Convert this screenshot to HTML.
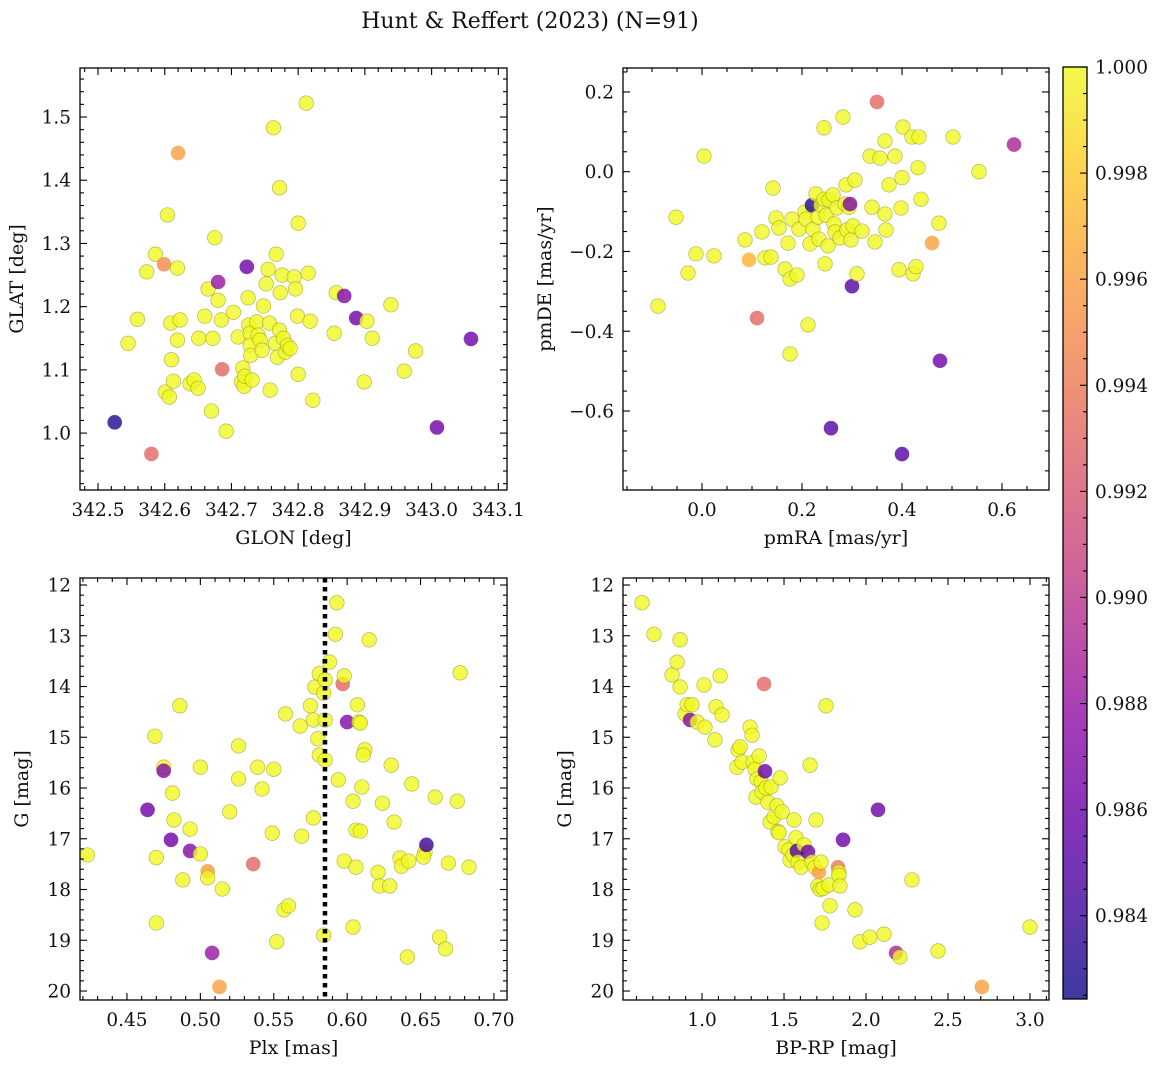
<!DOCTYPE html>
<html><head><meta charset="utf-8"><style>
body{margin:0;background:#fff;}
svg{display:block;font-family:"DejaVu Serif","Liberation Serif",serif;}
</style></head><body>
<svg id="fig" width="1161" height="1067" viewBox="0 0 1161 1067" xmlns="http://www.w3.org/2000/svg">
<defs><linearGradient id="cbgrad" x1="0" y1="1" x2="0" y2="0"></linearGradient></defs>
<text x="530" y="28" font-size="22" text-anchor="middle" fill="#111">Hunt &amp; Reffert (2023) (N=91)</text>
</svg>
<script>
// Panel 1: GLON vs GLAT
const glon1=[342.525,342.545,342.559,342.573,342.580,342.586,342.599,342.604,342.601,342.607,342.609,342.610,342.613,342.620,342.619,342.623,342.619,342.638,342.644,342.650,342.651,342.660,342.665,342.670,342.672,342.675,342.680,342.680,342.685,342.686,342.692,342.703,342.710,342.715,342.717,342.719,342.720,342.723,342.725,342.726,342.728,342.728,342.729,342.731,342.738,342.740,342.743,342.746,342.748,342.752,342.755,342.757,342.758,342.763,342.766,342.767,342.769,342.772,342.772,342.773,342.776,342.778,342.781,342.784,342.788,342.794,342.796,342.799,342.800,342.800,342.812,342.815,342.818,342.822,342.854,342.857,342.869,342.887,342.903,342.899,342.911,342.939,342.959,342.976,343.008,343.059];
const glat1=[1.017,1.142,1.180,1.255,0.967,1.283,1.267,1.345,1.065,1.057,1.174,1.116,1.082,1.443,1.261,1.179,1.147,1.078,1.084,1.071,1.150,1.185,1.228,1.035,1.150,1.309,1.239,1.210,1.179,1.101,1.003,1.191,1.152,1.081,1.103,1.074,1.090,1.263,1.214,1.171,1.158,1.139,1.123,1.084,1.176,1.155,1.147,1.131,1.201,1.236,1.259,1.174,1.068,1.483,1.142,1.283,1.120,1.388,1.163,1.222,1.250,1.150,1.128,1.139,1.134,1.247,1.228,1.185,1.332,1.093,1.522,1.253,1.177,1.052,1.158,1.222,1.217,1.182,1.177,1.081,1.150,1.203,1.098,1.130,1.009,1.149];
const prob1=[0.983,1,1,1,0.993,1,0.995,1,1,1,1,1,1,0.996,1,1,1,1,1,1,1,1,1,1,1,1,0.988,1,1,0.993,1,1,1,1,1,1,1,0.986,1,1,1,1,1,1,1,1,1,1,1,1,1,1,1,1,1,1,1,1,1,1,1,1,1,1,1,1,1,1,1,1,1,1,1,1,1,1,0.987,0.986,1,1,1,1,1,1,0.986,0.986];
// Panel 2: pmRA vs pmDE
const pmra2=[-0.088,-0.052,-0.028,-0.012,0.004,0.024,0.086,0.094,0.110,0.120,0.126,0.138,0.142,0.148,0.154,0.166,0.172,0.176,0.176,0.180,0.190,0.194,0.206,0.208,0.212,0.216,0.220,0.222,0.228,0.232,0.234,0.238,0.244,0.244,0.246,0.248,0.252,0.254,0.258,0.262,0.264,0.266,0.270,0.276,0.282,0.286,0.288,0.290,0.294,0.296,0.298,0.300,0.302,0.306,0.310,0.320,0.336,0.340,0.346,0.350,0.356,0.366,0.366,0.368,0.374,0.386,0.394,0.400,0.402,0.398,0.400,0.420,0.422,0.428,0.434,0.432,0.438,0.460,0.474,0.476,0.502,0.554,0.624];
const pmde2=[-0.337,-0.114,-0.254,-0.206,0.039,-0.211,-0.171,-0.221,-0.367,-0.151,-0.216,-0.214,-0.041,-0.116,-0.141,-0.244,-0.179,-0.457,-0.269,-0.119,-0.259,-0.144,-0.101,-0.119,-0.384,-0.181,-0.084,-0.144,-0.056,-0.114,-0.169,-0.084,0.110,-0.069,-0.231,-0.109,-0.186,-0.071,-0.643,-0.058,-0.131,-0.151,-0.091,-0.166,0.137,-0.081,-0.033,-0.146,-0.089,-0.081,-0.171,-0.287,-0.136,-0.021,-0.256,-0.149,0.039,-0.089,-0.176,0.175,0.034,0.077,-0.106,-0.146,-0.033,0.039,-0.246,-0.708,0.112,-0.091,-0.015,0.087,-0.256,-0.238,0.087,0.010,-0.069,-0.179,-0.129,-0.474,0.087,0.000,0.068];
const prob2=[1,1,1,1,1,1,1,0.997,0.993,1,1,1,1,1,1,1,1,1,1,1,1,1,1,1,1,1,0.983,1,1,1,1,1,1,1,1,1,1,1,0.985,1,1,1,1,1,1,1,1,1,1,0.987,1,0.985,1,1,1,1,1,1,1,0.993,1,1,1,1,1,1,1,0.985,1,1,1,1,1,1,1,1,1,0.996,1,0.986,1,1,0.989];
// Panel 3: Plx vs G
const plx3=[0.423,0.469,0.470,0.470,0.464,0.475,0.475,0.480,0.481,0.482,0.486,0.488,0.493,0.493,0.500,0.500,0.505,0.505,0.508,0.513,0.515,0.520,0.526,0.526,0.536,0.539,0.542,0.549,0.550,0.552,0.558,0.557,0.560,0.569,0.568,0.575,0.577,0.577,0.578,0.580,0.581,0.581,0.584,0.584,0.585,0.585,0.585,0.588,0.592,0.593,0.594,0.597,0.598,0.598,0.600,0.604,0.604,0.606,0.606,0.607,0.608,0.609,0.609,0.610,0.612,0.611,0.615,0.621,0.622,0.624,0.629,0.630,0.632,0.636,0.637,0.641,0.642,0.644,0.653,0.652,0.654,0.660,0.663,0.667,0.669,0.675,0.677,0.683];
const g3=[17.32,14.98,18.66,17.37,16.43,15.59,15.66,17.02,16.10,16.63,14.38,17.81,17.24,16.81,15.59,17.30,17.64,17.77,19.25,19.92,17.99,16.47,15.17,15.82,17.50,15.59,16.02,16.89,15.63,19.03,14.54,18.40,18.32,16.95,14.78,14.38,14.66,16.59,14.01,15.03,13.75,15.35,18.90,14.13,13.87,15.45,14.66,13.52,12.97,12.35,15.84,13.95,13.79,17.44,14.70,18.74,16.26,17.56,16.83,14.36,14.70,14.72,16.85,15.98,15.25,15.35,13.08,17.66,17.93,16.30,17.93,15.55,16.67,17.38,17.54,19.33,17.44,15.92,17.26,17.36,17.12,16.18,18.94,19.17,17.48,16.26,13.73,17.56];
const prob3=[1,1,1,1,0.986,1,0.987,0.986,1,1,1,1,0.987,1,1,1,0.996,1,0.988,0.996,1,1,1,1,0.993,1,1,1,1,1,1,1,1,1,1,1,1,1,1,1,1,1,1,1,1,1,1,1,1,1,1,0.993,1,1,0.987,1,1,1,1,1,1,1,1,1,1,1,1,1,1,1,1,1,1,1,1,1,1,1,1,1,0.984,1,1,1,1,1,1,1];
const plxLine=[0.5849];
// Panel 4: BP-RP vs G
const bprp4=[0.634,0.707,0.817,0.848,0.866,0.866,0.896,0.909,0.927,0.939,0.970,1.012,1.018,1.079,1.085,1.110,1.122,1.213,1.220,1.232,1.244,1.293,1.305,1.311,1.323,1.329,1.335,1.348,1.360,1.366,1.378,1.384,1.390,1.402,1.415,1.421,1.439,1.457,1.463,1.470,1.476,1.488,1.506,1.530,1.537,1.555,1.561,1.573,1.579,1.585,1.604,1.622,1.646,1.659,1.671,1.689,1.695,1.707,1.713,1.720,1.726,1.732,1.738,1.756,1.774,1.780,1.829,1.835,1.835,1.841,1.860,1.933,1.963,2.024,2.073,2.110,2.183,2.207,2.280,2.439,2.707,3.000];
const g4=[12.35,12.97,13.77,13.52,13.08,14.01,14.54,14.36,14.66,14.36,14.70,13.97,14.80,15.05,14.40,13.79,14.56,15.59,15.25,15.19,15.49,14.80,14.96,15.49,15.63,16.18,15.82,15.37,15.88,16.08,13.95,15.67,16.00,16.28,16.67,15.98,16.57,16.35,16.86,16.88,15.80,16.47,17.16,17.22,17.42,17.32,16.63,16.98,17.24,17.46,17.56,17.12,17.26,15.55,17.46,17.56,16.63,17.93,17.66,18.00,17.46,18.66,17.98,14.38,17.91,18.32,17.56,17.66,17.72,17.93,17.02,18.40,19.03,18.94,16.43,18.88,19.25,19.33,17.81,19.21,19.92,18.74];
const prob4=[1,1,1,1,1,1,1,1,0.987,1,1,1,1,1,1,1,1,1,1,1,1,1,1,1,1,1,1,1,1,1,0.993,0.986,1,1,1,1,1,1,1,1,1,1,1,1,1,1,1,1,0.985,1,1,1,0.986,1,1,1,1,1,0.996,1,1,1,1,1,1,1,0.994,1,1,1,0.986,1,1,1,0.986,1,0.989,1,1,1,0.996,1];
// Colorbar
const cbTicks=[0.984,0.986,0.988,0.990,0.992,0.994,0.996,0.998,1.000];
const cbMin=0.98243, cbMax=1.0;

const NS='http://www.w3.org/2000/svg';
const svg=document.getElementById('fig');
function el(tag,attrs,parent){const e=document.createElementNS(NS,tag);for(const k in attrs)e.setAttribute(k,attrs[k]);(parent||svg).appendChild(e);return e;}
const stops=[[0,'#0d0887'],[0.1,'#41049d'],[0.2,'#6a00a8'],[0.3,'#8f0da4'],[0.4,'#b12a90'],[0.5,'#cc4778'],[0.6,'#e16462'],[0.7,'#f2844b'],[0.8,'#fca636'],[0.9,'#fcce25'],[1,'#f0f921']];
function hex(h){return [1,3,5].map(i=>parseInt(h.substr(i,2),16));}
function plasma(t){t=Math.max(0,Math.min(1,t));for(let i=1;i<stops.length;i++){if(t<=stops[i][0]){const a=stops[i-1],b=stops[i];const f=(t-a[0])/(b[0]-a[0]);const ca=hex(a[1]),cb=hex(b[1]);return 'rgb('+ca.map((v,j)=>Math.round(v+(cb[j]-v)*f)).join(',')+')';}}return stops[stops.length-1][1];}
function cnorm(p){return (p-cbMin)/(cbMax-cbMin);}

function fmt(v,d){let s=v.toFixed(d);if(v<-1e-9)s='\u2212'+s.slice(1);if(Math.abs(v)<1e-9)s=(0).toFixed(d);return s;}

function panel(o){
  const g=el('g',{});
  
  
  const X=v=>o.x0+(v-o.xmin)/(o.xmax-o.xmin)*(o.x1-o.x0);
  const Y=o.yinv?(v=>o.y0+(v-o.ymin)/(o.ymax-o.ymin)*(o.y1-o.y0)):(v=>o.y1-(v-o.ymin)/(o.ymax-o.ymin)*(o.y1-o.y0));
  const pg=el('g',{},g);
  
  
  for(let i=0;i<o.xs.length;i++){
    const c=el('circle',{cx:X(o.xs[i]),cy:Y(o.ys[i]),r:7.3,fill:plasma(cnorm(o.ps[i])),'fill-opacity':0.8,stroke:o.ps[i]>=0.999?'#8a8a2a':'none','stroke-opacity':0.6,'stroke-width':0.7},pg);
    
    
  }
  if(o.vline){for(const v of o.vline){const l=el('line',{x1:X(v),x2:X(v),y1:o.y0,y2:o.y1,stroke:'#000','stroke-width':4.5,'stroke-dasharray':'4.5 4.5'},g);
    
    }}
  const fr=el('rect',{x:o.x0,y:o.y0,width:o.x1-o.x0,height:o.y1-o.y0,fill:'none',stroke:'#000','stroke-width':1.3},g);
  
  
  const lo=Math.min(o.xmin,o.xmax),hi=Math.max(o.xmin,o.xmax);
  for(let k=Math.ceil(lo/o.xminor-1e-6);k*o.xminor<=hi+1e-9;k++){
    const v=k*o.xminor;const major=Math.abs(v/o.xmajor-Math.round(v/o.xmajor))<1e-6;const L=major?7:4;const px=X(v);
    el('line',{x1:px,x2:px,y1:o.y1,y2:o.y1-L,stroke:'#000','stroke-width':1.1},g);
    el('line',{x1:px,x2:px,y1:o.y0,y2:o.y0+L,stroke:'#000','stroke-width':1.1},g);
    if(major){const t=el('text',{x:px,y:o.y1+26,'font-size':18.5,'text-anchor':'middle',fill:'#111'},g);t.textContent=fmt(v,o.xd);
      
      }
  }
  const ylo=Math.min(o.ymin,o.ymax),yhi=Math.max(o.ymin,o.ymax);
  for(let k=Math.ceil(ylo/o.yminor-1e-6);k*o.yminor<=yhi+1e-9;k++){
    const v=k*o.yminor;const major=Math.abs(v/o.ymajor-Math.round(v/o.ymajor))<1e-6;const L=major?7:4;const py=Y(v);
    el('line',{x1:o.x0,x2:o.x0+L,y1:py,y2:py,stroke:'#000','stroke-width':1.1},g);
    el('line',{x1:o.x1,x2:o.x1-L,y1:py,y2:py,stroke:'#000','stroke-width':1.1},g);
    if(major){const t=el('text',{x:o.x0-9,y:py+6.5,'font-size':18.5,'text-anchor':'end',fill:'#111'},g);t.textContent=fmt(v,o.yd);
      
      }
  }
  const xl=el('text',{x:(o.x0+o.x1)/2,y:o.y1+54,'font-size':19,'text-anchor':'middle',fill:'#111'},g);xl.textContent=o.xlabel;
  
  
  const yx=o.ylx,yy=(o.y0+o.y1)/2;
  const yl=el('text',{x:yx,y:yy,'font-size':19,'text-anchor':'middle',fill:'#111',transform:'rotate(-90 '+yx+' '+yy+')'},g);yl.textContent=o.ylabel;
  
  
}
panel({name:'glon-glat-panel',xs:glon1,ys:glat1,ps:prob1,x0:80,x1:507,y0:68,y1:490,xmin:342.473,xmax:343.113,ymin:0.910,ymax:1.5775,xmajor:0.1,xminor:0.02,ymajor:0.1,yminor:0.02,xd:1,yd:1,xlabel:'GLON [deg]',ylabel:'GLAT [deg]',ylx:23});
panel({name:'proper-motion-panel',xs:pmra2,ys:pmde2,ps:prob2,x0:623,x1:1049,y0:68,y1:490,xmin:-0.158,xmax:0.694,ymin:-0.798,ymax:0.260,xmajor:0.2,xminor:0.05,ymajor:0.2,yminor:0.05,xd:1,yd:1,xlabel:'pmRA [mas/yr]',ylabel:'pmDE [mas/yr]',ylx:551});
panel({name:'parallax-magnitude-panel',xs:plx3,ys:g3,ps:prob3,vline:plxLine,x0:80,x1:507,y0:578,y1:1000,xmin:0.418,xmax:0.7089,ymin:11.862,ymax:20.177,yinv:true,xmajor:0.05,xminor:0.01,ymajor:1,yminor:0.2,xd:2,yd:0,xlabel:'Plx [mas]',ylabel:'G [mag]',ylx:28});
panel({name:'color-magnitude-panel',xs:bprp4,ys:g4,ps:prob4,x0:623,x1:1049,y0:578,y1:1000,xmin:0.518,xmax:3.116,ymin:11.862,ymax:20.177,yinv:true,xmajor:0.5,xminor:0.1,ymajor:1,yminor:0.2,xd:1,yd:0,xlabel:'BP-RP [mag]',ylabel:'G [mag]',ylx:571});

const grad=document.getElementById('cbgrad');
for(let i=0;i<=20;i++){el('stop',{offset:(i/20),'stop-color':plasma(i/20),'stop-opacity':0.8},grad);}
const cb=el('g',{});


const cx0=1063,cx1=1087,cy0=67,cy1=999;
const CY=v=>cy1-(v-cbMin)/(cbMax-cbMin)*(cy1-cy0);
el('rect',{x:cx0,y:cy0,width:cx1-cx0,height:cy1-cy0,fill:'url(#cbgrad)',stroke:'#000','stroke-width':1.3},cb);
for(let k=Math.ceil(cbMin/0.0005-1e-6);k*0.0005<=cbMax+1e-9;k++){
  const v=k*0.0005;const py=CY(v);const major=cbTicks.some(t=>Math.abs(t-v)<1e-7);
  el('line',{x1:cx1,x2:cx1-(major?7:4),y1:py,y2:py,stroke:'#000','stroke-width':1.1},cb);
}
for(const t of cbTicks){const tx=el('text',{x:cx1+8,y:CY(t)+6.5,'font-size':18.5,fill:'#111'},cb);tx.textContent=t.toFixed(3);
  
  }
</script>
</body></html>
